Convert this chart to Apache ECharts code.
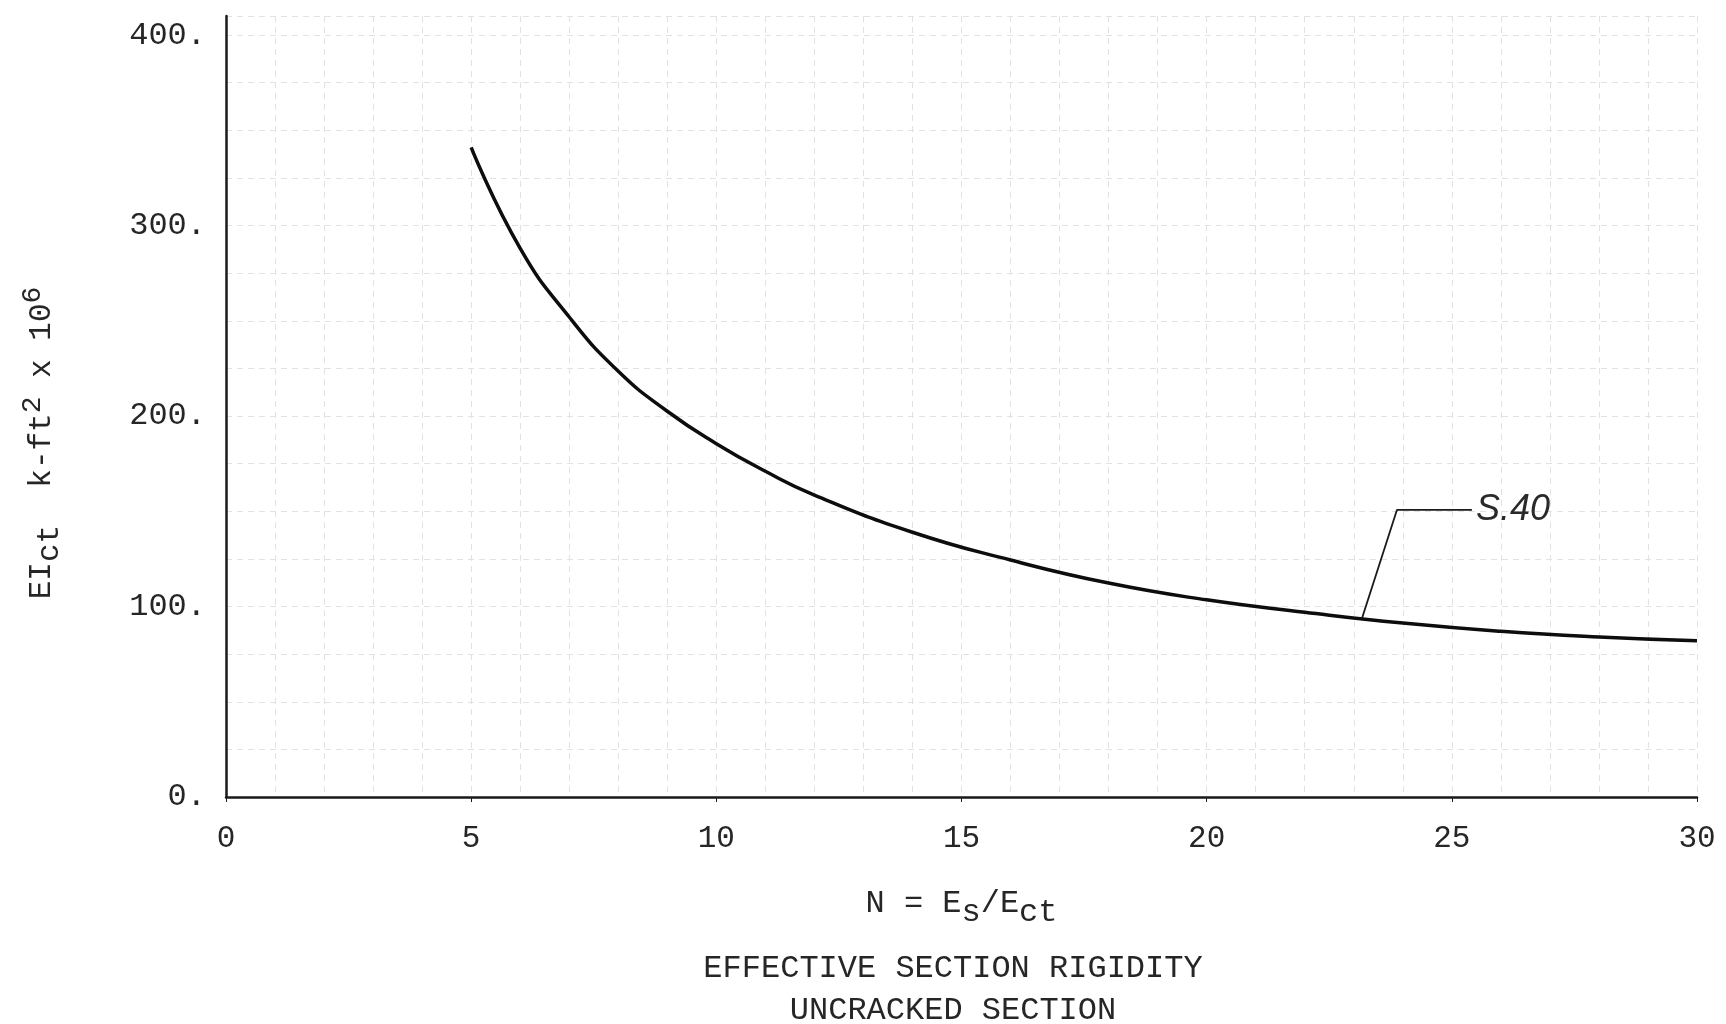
<!DOCTYPE html>
<html>
<head>
<meta charset="utf-8">
<title>Effective Section Rigidity - Uncracked Section</title>
<script src="https://cdn.jsdelivr.net/npm/echarts@6/dist/echarts.min.js"></script>
<style>
  html, body { margin: 0; padding: 0; background: #ffffff; }
  #chart { width: 1726px; height: 1024px; }
</style>
</head>
<body>
<div id="chart"></div>
<script>
// Modular ratio N = Es/Ect
const modularRatio = [5, 6, 7, 8, 9, 10, 11, 12, 14, 16, 18, 20, 22, 24, 26, 28, 30];
// Effective rigidity EIct (k-ft^2 x 10^6), section S.40
const rigidityS40 = [341, 288, 252, 223.5, 202.5, 185.5, 171, 158.5, 139, 124.4, 112.3, 103.5, 97, 91.3, 87, 84, 82];

// Leader from the curve to the "S.40" tag
const leaderN = [23.17, 23.88, 25.41];
const leaderEI = [94, 150.7, 150.7];
const curveTag = 'S.40';

// Axis ticks
const xTicks = { min: 0, max: 30, interval: 5 };
const yTicks = { min: 0, max: 410, interval: 100 };

const titleLine = 'EFFECTIVE SECTION RIGIDITY';
const subtitleLine = 'UNCRACKED SECTION';

const MONO = '"Liberation Mono", "DejaVu Sans Mono", monospace';
const INK = '#262626';
const PAPER_GRID = '#e2e2e2';

const chart = echarts.init(document.getElementById('chart'), null, { renderer: 'canvas' });

const curveData = modularRatio.map((n, i) => [n, rigidityS40[i]]);
const leaderData = leaderN.map((n, i) => [n, leaderEI[i]]);

chart.setOption({
  backgroundColor: '#ffffff',
  animation: false,
  title: {
    text: titleLine,
    subtext: subtitleLine,
    left: 948,
    textAlign: 'center',
    top: 948,
    itemGap: 10,
    textStyle: { fontFamily: MONO, fontSize: 32, fontWeight: 'normal', color: INK, lineHeight: 32 },
    subtextStyle: { fontFamily: MONO, fontSize: 32, color: INK, lineHeight: 32 }
  },
  grid: { left: 226, right: 29, top: 16, bottom: 227, containLabel: false },
  xAxis: {
    type: 'value',
    min: xTicks.min,
    max: xTicks.max,
    interval: xTicks.interval,
    name: 'N = E{sub|s}/E{sub|ct}',
    nameLocation: 'middle',
    nameGap: 82,
    nameTextStyle: {
      fontFamily: MONO, fontSize: 32, color: INK,
      rich: {
        sub: { fontFamily: MONO, fontSize: 32, color: INK, padding: [18, 0, 0, 0] }
      }
    },
    axisLine: { show: true, lineStyle: { color: '#1a1a1a', width: 2.5 } },
    axisTick: { show: true, length: 5, lineStyle: { color: '#1a1a1a', width: 1 } },
    axisLabel: { fontFamily: MONO, fontSize: 31, color: INK, margin: 26 },
    splitLine: { show: true, lineStyle: { color: PAPER_GRID, type: [6, 5], width: 1 } },
    minorTick: { show: false, splitNumber: 5 },
    minorSplitLine: { show: true, lineStyle: { color: PAPER_GRID, type: [6, 5], width: 1 } }
  },
  yAxis: {
    type: 'value',
    min: yTicks.min,
    max: yTicks.max,
    interval: yTicks.interval,
    axisLine: { show: true, lineStyle: { color: '#1a1a1a', width: 2.5 } },
    axisTick: { show: false },
    axisLabel: {
      fontFamily: MONO, fontSize: 32, color: INK, margin: 20,
      showMaxLabel: false,
      formatter: v => v + '.'
    },
    splitLine: { show: true, lineStyle: { color: PAPER_GRID, type: [6, 5], width: 1 } },
    minorTick: { show: false, splitNumber: 4 },
    minorSplitLine: { show: true, lineStyle: { color: PAPER_GRID, type: [6, 5], width: 1 } }
  },
  graphic: [
    {
      type: 'text',
      x: 42,
      y: 443,
      rotation: Math.PI / 2,
      style: {
        text: 'EI{sub|ct}  k-ft{sup|2} x 10{sup|6}',
        fontFamily: MONO,
        fontSize: 31,
        fill: INK,
        align: 'center',
        verticalAlign: 'middle',
        rich: {
          sub: { fontFamily: MONO, fontSize: 31, fill: INK, padding: [16, 0, 0, 0] },
          sup: { fontFamily: MONO, fontSize: 28, fill: INK, padding: [0, 0, 18, 0] }
        }
      }
    }
  ],
  series: [
    {
      name: curveTag,
      type: 'line',
      data: curveData,
      smooth: 0.5,
      showSymbol: false,
      symbol: 'none',
      lineStyle: { color: '#0d0d0d', width: 3.5 },
      z: 3
    },
    {
      name: curveTag + ' leader',
      type: 'line',
      data: leaderData,
      smooth: false,
      showSymbol: false,
      symbol: 'none',
      lineStyle: { color: '#1a1a1a', width: 1.8 },
      endLabel: {
        show: true,
        formatter: curveTag,
        fontFamily: '"Liberation Sans", "DejaVu Sans", sans-serif',
        fontStyle: 'italic',
        fontSize: 36,
        color: '#2a2a2a',
        distance: 4
      },
      z: 4
    }
  ]
});
</script>
</body>
</html>
